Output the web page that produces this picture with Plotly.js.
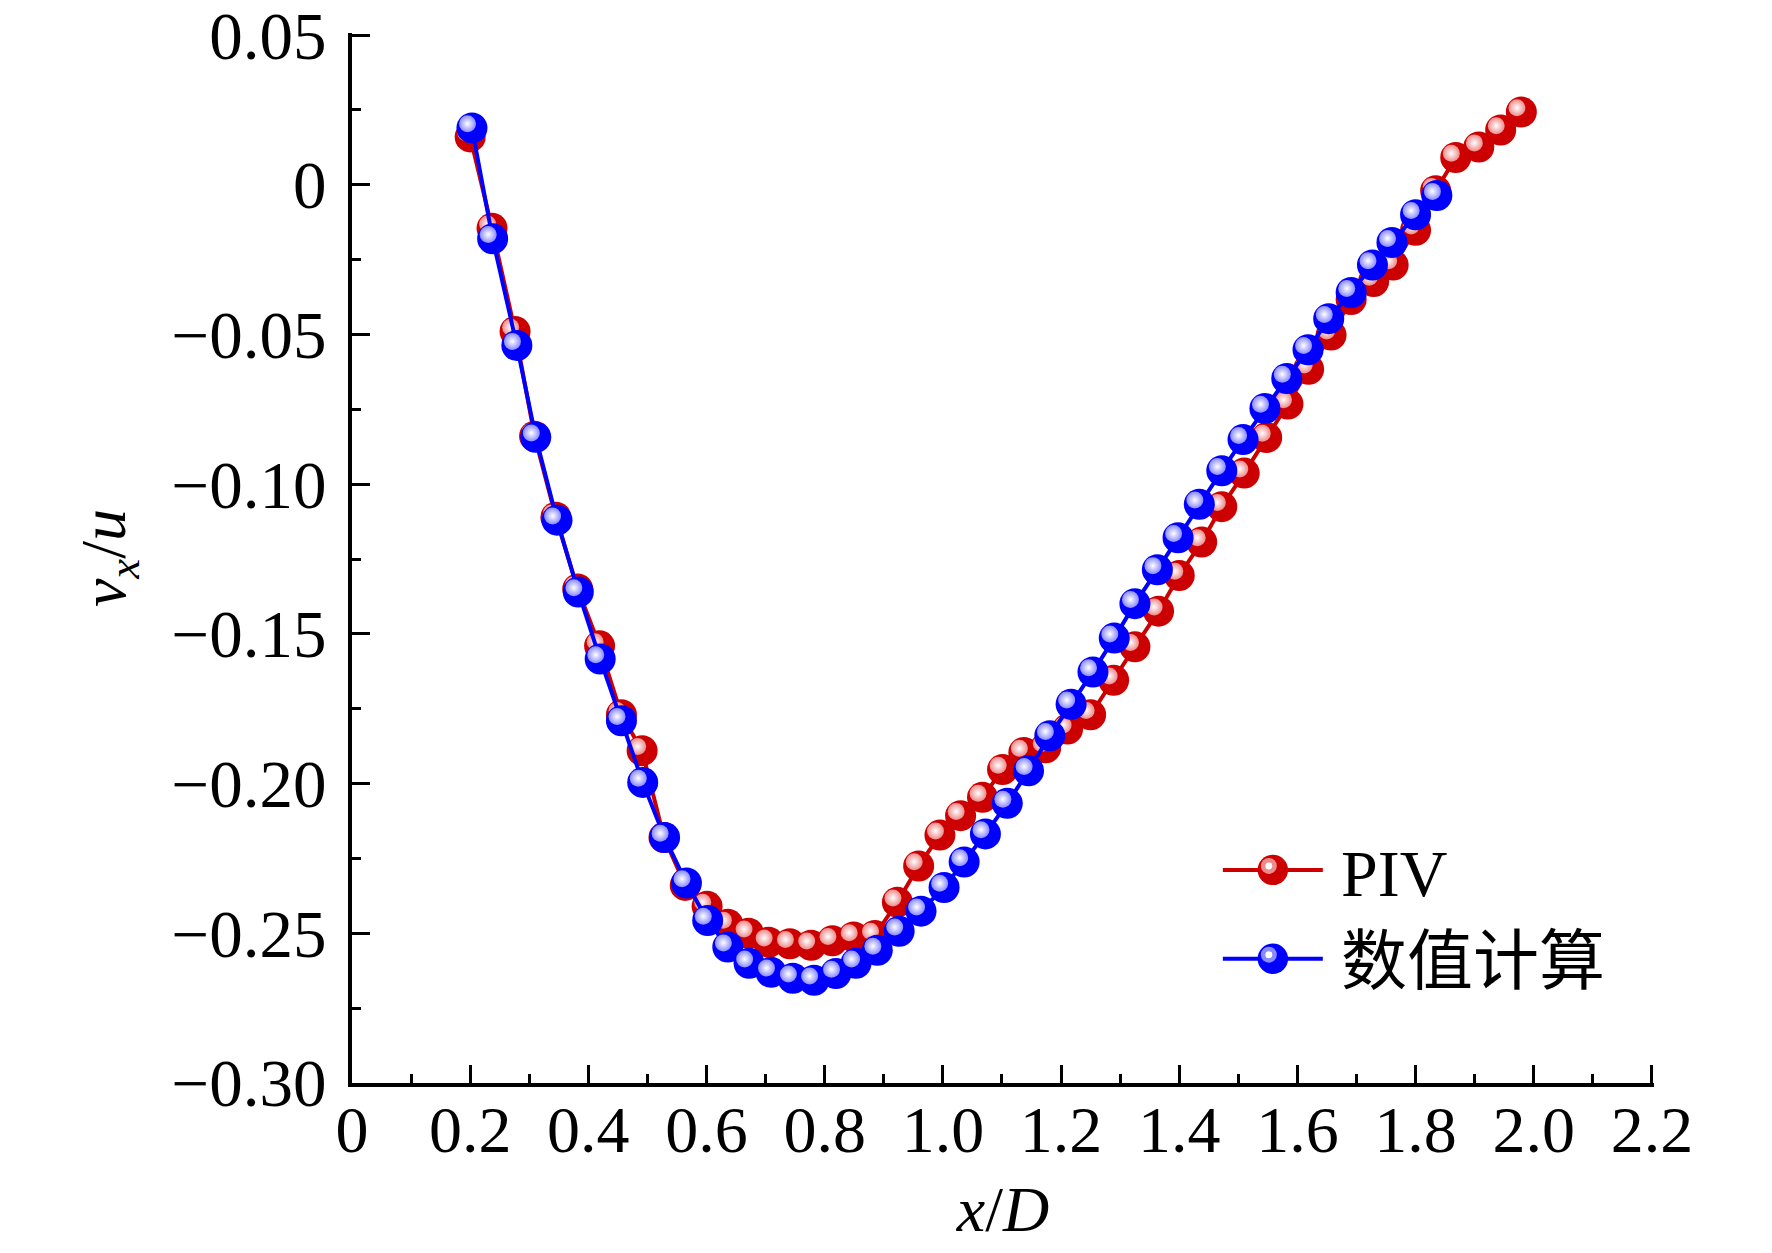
<!DOCTYPE html>
<html>
<head>
<meta charset="utf-8">
<script src="https://cdn.plot.ly/plotly-3.0.1.min.js"></script>
<style>
  html, body { margin: 0; padding: 0; background: #fff; }
  #plot { width: 1772px; height: 1253px; }
</style>
</head>
<body>
<div id="plot"></div>
<script>
// PIV measurements
var pivX = [0.200, 0.237, 0.276, 0.309, 0.345, 0.382, 0.419, 0.456, 0.491, 0.528,
            0.564, 0.601, 0.636, 0.671, 0.705, 0.741, 0.777, 0.813, 0.849, 0.885,
            0.923, 0.959, 0.995, 1.030, 1.067, 1.101, 1.137, 1.174, 1.211, 1.250,
            1.289, 1.325, 1.365, 1.400, 1.438, 1.472, 1.510, 1.548, 1.584, 1.619,
            1.657, 1.691, 1.729, 1.762, 1.800, 1.834, 1.868, 1.907, 1.944, 1.979];
var pivY = [0.016, -0.0145, -0.049, -0.084, -0.111, -0.135, -0.154, -0.177, -0.189, -0.218,
            -0.234, -0.241, -0.247, -0.250, -0.253, -0.2535, -0.254, -0.2525, -0.2512, -0.2507,
            -0.2396, -0.2275, -0.2172, -0.2107, -0.2046, -0.1953, -0.1896, -0.188, -0.1818, -0.177,
            -0.1655, -0.1543, -0.1424, -0.1305, -0.1193, -0.1075, -0.0963, -0.0844, -0.0732, -0.0616,
            -0.0502, -0.0383, -0.0323, -0.0268, -0.0152, -0.002, 0.0091, 0.0126, 0.0183, 0.0243];

// numerical results
var numX = [0.203, 0.238, 0.279, 0.311, 0.347, 0.383, 0.420, 0.456, 0.492, 0.529,
            0.566, 0.602, 0.636, 0.672, 0.709, 0.746, 0.782, 0.819, 0.853, 0.889,
            0.926, 0.963, 1.002, 1.036, 1.072, 1.109, 1.145, 1.181, 1.217, 1.254,
            1.290, 1.325, 1.363, 1.398, 1.434, 1.472, 1.508, 1.545, 1.582, 1.618,
            1.653, 1.691, 1.727, 1.760, 1.800, 1.836];
var numY = [0.019, -0.018, -0.0537, -0.0843, -0.112, -0.136, -0.1584, -0.179, -0.1996, -0.218,
            -0.2332, -0.2457, -0.2546, -0.260, -0.263, -0.265, -0.2657, -0.2634, -0.260, -0.2557,
            -0.2493, -0.2426, -0.2347, -0.2262, -0.2168, -0.2066, -0.1957, -0.184, -0.1735, -0.1627,
            -0.1514, -0.1399, -0.1286, -0.1179, -0.1067, -0.0955, -0.0851, -0.0747, -0.0647, -0.0551,
            -0.0447, -0.036, -0.0268, -0.0193, -0.010, -0.0036];

var xTicks = [0, 0.2, 0.4, 0.6, 0.8, 1.0, 1.2, 1.4, 1.6, 1.8, 2.0, 2.2];
var xTickText = ["0", "0.2", "0.4", "0.6", "0.8", "1.0", "1.2", "1.4", "1.6", "1.8", "2.0", "2.2"];
var yTicks = [0.05, 0, -0.05, -0.10, -0.15, -0.20, -0.25, -0.30];
var yTickText = ["0.05", "0", "\u22120.05", "\u22120.10", "\u22120.15", "\u22120.20", "\u22120.25", "\u22120.30"];
var seriesNames = ["\u2009PIV", "\u2009数值计算"];

var RED = "#cc0000";
var BLUE = "#0000ff";
var FONT = "Liberation Serif, Noto Sans CJK SC, serif";

// ends padded by ~2px so the end ticks survive plotly's edge clipping
var xRange = [0, 2.2035];
var yRange = [-0.30, 0.0507];
// highlight layer is shifted a few pixels up-left so the balls look lit
var dx = 0.0075, dy = 0.0014;
var xShift = [xRange[0] + dx, xRange[1] + dx];
var yShift = [yRange[0] - dy, yRange[1] - dy];

var traces = [
  {
    x: pivX, y: pivY, name: seriesNames[0], type: "scatter", mode: "lines+markers",
    xaxis: "x", yaxis: "y",
    line: {color: RED, width: 4},
    marker: {size: 31, color: RED}
  },
  {
    x: pivX, y: pivY, type: "scatter", mode: "markers", showlegend: false,
    xaxis: "x2", yaxis: "y2",
    marker: {size: 17, color: "#ee8a8a", gradient: {type: "radial", color: "#ffffff"}}
  },
  {
    x: numX, y: numY, name: seriesNames[1], type: "scatter", mode: "lines+markers",
    xaxis: "x3", yaxis: "y3",
    line: {color: BLUE, width: 4},
    marker: {size: 31, color: BLUE}
  },
  {
    x: numX, y: numY, type: "scatter", mode: "markers", showlegend: false,
    xaxis: "x4", yaxis: "y4",
    marker: {size: 17, color: "#8a8aff", gradient: {type: "radial", color: "#ffffff"}}
  }
];

function hiddenAxis(range, over) {
  return {range: range, overlaying: over, visible: false, fixedrange: true};
}

var layout = {
  width: 1772, height: 1253,
  paper_bgcolor: "#fff", plot_bgcolor: "#fff",
  margin: {l: 352, r: 118, t: 33, b: 170},
  font: {family: FONT, size: 64, color: "#000"},
  showlegend: true,
  legend: {
    x: 0.665, y: 0.25, xanchor: "left", yanchor: "top",
    bgcolor: "rgba(0,0,0,0)", borderwidth: 0,
    font: {family: FONT, size: 66, color: "#000"},
    itemwidth: 100, tracegroupgap: 0
  },
  xaxis: {
    range: xRange, showgrid: false, zeroline: false,
    showline: true, linecolor: "#000", linewidth: 4,
    ticks: "inside", ticklen: 18, tickwidth: 3, tickcolor: "#000",
    tickmode: "array", tickvals: xTicks, ticktext: xTickText,
    tickfont: {family: FONT, size: 66},
    ticklabelstandoff: -14, ticklabeloverflow: "allow",
    minor: {tickmode: "linear", tick0: 0, dtick: 0.1, ticks: "inside", ticklen: 9, tickwidth: 3, tickcolor: "#000"},
    title: {text: "<i>x</i>/<i>D</i>", font: {family: FONT, size: 64}, standoff: 22}
  },
  yaxis: {
    range: yRange, showgrid: false, zeroline: false,
    showline: true, linecolor: "#000", linewidth: 4,
    ticks: "inside", ticklen: 18, tickwidth: 3, tickcolor: "#000",
    tickmode: "array", tickvals: yTicks, ticktext: yTickText,
    tickfont: {family: FONT, size: 67},
    ticklabelstandoff: 8, ticklabeloverflow: "allow",
    minor: {tickmode: "linear", tick0: 0, dtick: 0.025, ticks: "inside", ticklen: 9, tickwidth: 3, tickcolor: "#000"},
    title: {text: "<i>v</i><sub><i>x</i></sub>/<i>u</i>", font: {family: FONT, size: 64}, standoff: 26}
  },
  xaxis2: hiddenAxis(xShift, "x"),
  yaxis2: hiddenAxis(yShift, "y"),
  xaxis3: hiddenAxis(xRange, "x"),
  yaxis3: hiddenAxis(yRange, "y"),
  xaxis4: hiddenAxis(xShift, "x"),
  yaxis4: hiddenAxis(yShift, "y")
};

var glints = ["#ee8a8a", "#8a8aff"];
var SVGNS = "http://www.w3.org/2000/svg";

Plotly.newPlot("plot", traces, layout, {staticPlot: true, displayModeBar: false}).then(function (gd) {
  // plotly caps legend marker size: enlarge the legend balls and add the same glint
  gd.querySelectorAll(".legend .legendpoints path.scatterpts").forEach(function (p, i) {
    var t = p.getAttribute("transform") || "";
    p.setAttribute("transform", t + " scale(1.9)");
    var g = p.parentNode;
    var ring = document.createElementNS(SVGNS, "circle");
    ring.setAttribute("r", "8");
    ring.setAttribute("fill", glints[i % 2]);
    ring.setAttribute("transform", t + " translate(-4,-4)");
    var dot = document.createElementNS(SVGNS, "circle");
    dot.setAttribute("r", "3.5");
    dot.setAttribute("fill", "#ffffff");
    dot.setAttribute("transform", t + " translate(-4,-4)");
    g.appendChild(ring);
    g.appendChild(dot);
  });
});
</script>
</body>
</html>
